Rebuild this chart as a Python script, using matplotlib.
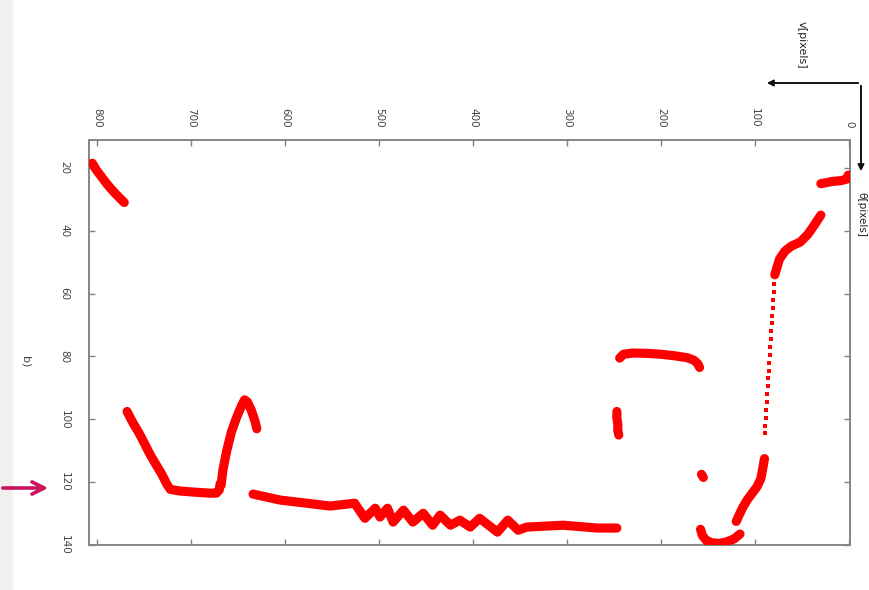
import matplotlib
matplotlib.use("Agg")
import matplotlib.pyplot as plt
from matplotlib.patches import FancyArrowPatch, Rectangle

# ---------------- data (v [pixels], theta [pixels]) ----------------
v_ticks = [0, 100, 200, 300, 400, 500, 600, 700, 800]
th_ticks = [20, 40, 60, 80, 100, 120, 140]

segA_v = [1, 2, 8, 18, 30]
segA_th = [22.3, 23.5, 24.0, 24.3, 25.0]

segB_v = [30, 37, 44, 52, 61, 68, 74, 77, 79]
segB_th = [35.0, 38.2, 41.2, 43.6, 44.8, 46.4, 49.0, 52.0, 54.0]

segC_v = [79, 80, 80, 81, 81, 82, 82, 83, 83, 84, 84, 85, 85, 86, 86, 87, 87, 88, 88, 89, 89]
segC_th = [54.5, 57, 59.5, 62, 64.5, 67, 69.5, 72, 74.5, 77, 79.5, 82, 84.5, 87, 89.5,
           92, 94.5, 97, 99.5, 102, 104.5]

segD_v = [90, 92, 94, 98, 103, 108, 113, 117, 120]
segD_th = [112.5, 116, 119, 121.5, 123.5, 125.5, 128, 130.5, 132.5]

segE_v = [116, 122, 130, 138, 146, 152, 156, 158]
segE_th = [136.5, 138, 139, 139.5, 139.3, 138.5, 137, 135]

segF_v = [155, 157]
segF_th = [118.5, 117.5]

segG_v = [244, 240, 230, 215, 200, 185, 172, 165, 161, 159]
segG_th = [80.5, 79.3, 78.9, 79.0, 79.3, 79.8, 80.4, 81.2, 82.3, 83.5]

segH_v = [247, 247, 246, 246, 245]
segH_th = [97.5, 99.5, 101.5, 103.5, 105]

segI_v = [634, 605, 577, 552, 526, 515, 504, 499, 491, 485, 474, 464, 453, 443, 435,
          424, 414, 403, 393, 374, 363, 352, 343, 304, 268, 247]
segI_th = [123.8, 125.7, 126.7, 127.6, 126.7, 131.5, 128.3, 131.1, 128.3, 132.7, 128.9,
           132.7, 129.9, 133.7, 130.5, 133.7, 132.1, 134.3, 131.5, 135.9, 132.1, 135.3,
           134.3, 133.7, 134.6, 134.6]

segJ_v = [668, 666, 662, 657, 651, 646, 643, 640, 636, 632, 630]
segJ_th = [121, 116, 110, 104, 99, 95.5, 93.8, 94.5, 97, 100.5, 103]

segK_v = [768, 762, 755, 749, 743, 737, 731, 726, 722, 712, 700, 690, 680, 673, 670, 669]
segK_th = [97.5, 101, 104.5, 108, 111.5, 114.5, 117.5, 120.5, 122.3, 122.8, 123.1,
           123.3, 123.5, 123.5, 122.5, 120.5]

segL_v = [805, 801, 796, 791, 786, 781, 776, 771]
segL_th = [18.5, 20.5, 22.5, 24.5, 26.3, 28, 29.5, 31]

solid_segments = [(segA_v, segA_th), (segB_v, segB_th), (segD_v, segD_th),
                  (segE_v, segE_th), (segF_v, segF_th), (segG_v, segG_th),
                  (segH_v, segH_th), (segI_v, segI_th), (segJ_v, segJ_th),
                  (segK_v, segK_th), (segL_v, segL_th)]

# ---------------- figure ----------------
W, H = 869, 590
fig = plt.figure(figsize=(W / 100, H / 100), dpi=100)
fig.patch.set_facecolor("white")

# light grey strip at the left edge
fig.patches.append(Rectangle((0, 0), 13 / W, 1, transform=fig.transFigure,
                             facecolor="#f1f1f1", edgecolor="none", zorder=0))

ax = fig.add_axes([89 / W, 1 - 545 / H, 761 / W, 405 / H])
ax.set_xlim(808.5, -1)
ax.set_ylim(140, 11.1)

red = "#ff0000"
for vv, tt in solid_segments:
    ax.plot(vv, tt, color=red, lw=6.6, solid_capstyle="round",
            solid_joinstyle="round", zorder=3)
ax.plot(segC_v, segC_th, linestyle="none", marker="s", markersize=3.2,
        color=red, markeredgewidth=0, zorder=3)

for s in ax.spines.values():
    s.set_color("#858585")
    s.set_linewidth(1.4)

ax.set_xticks(v_ticks)
ax.set_yticks(th_ticks)
ax.set_xticklabels([str(t) for t in v_ticks], rotation=-90)
ax.set_yticklabels([str(t) for t in th_ticks], rotation=-90, va="center")
ax.tick_params(axis="x", which="both", direction="in", top=True, bottom=True,
               labeltop=True, labelbottom=False, length=4, width=1,
               color="#808080", labelsize=7.5, labelcolor="#444444", pad=9)
ax.tick_params(axis="y", which="both", direction="in", left=True, right=True,
               labelleft=True, labelright=False, length=4, width=1,
               color="#808080", labelsize=7.5, labelcolor="#444444", pad=14)

# ---------------- annotations ----------------
def fx(px):
    return px / W

def fy(py):
    return 1 - py / H

# coordinate arrows (black)
fig.add_artist(FancyArrowPatch((fx(861), fy(83)), (fx(861), fy(174)),
                               transform=fig.transFigure, arrowstyle="-|>",
                               mutation_scale=9, color="#111111", lw=1.4))
fig.add_artist(FancyArrowPatch((fx(861), fy(83)), (fx(764), fy(83)),
                               transform=fig.transFigure, arrowstyle="-|>",
                               mutation_scale=9, color="#111111", lw=1.4))
fig.text(fx(802), fy(45), "v[pixels]", rotation=-90, ha="center", va="center",
         fontsize=8, color="#222222")
fig.text(fx(861), fy(214), "θ[pixels]", rotation=-90, ha="center", va="center",
         fontsize=7.5, color="#222222")
fig.text(fx(25), fy(362), "b)", rotation=-90, ha="center", va="center",
         fontsize=8, color="#444444")

# magenta pointer arrow
fig.add_artist(FancyArrowPatch((fx(0), fy(488)), (fx(51), fy(488)),
                               transform=fig.transFigure, arrowstyle="->",
                               mutation_scale=22, color="#c8145c", lw=2.6))

fig.savefig("out.png", dpi=100, facecolor="white")
